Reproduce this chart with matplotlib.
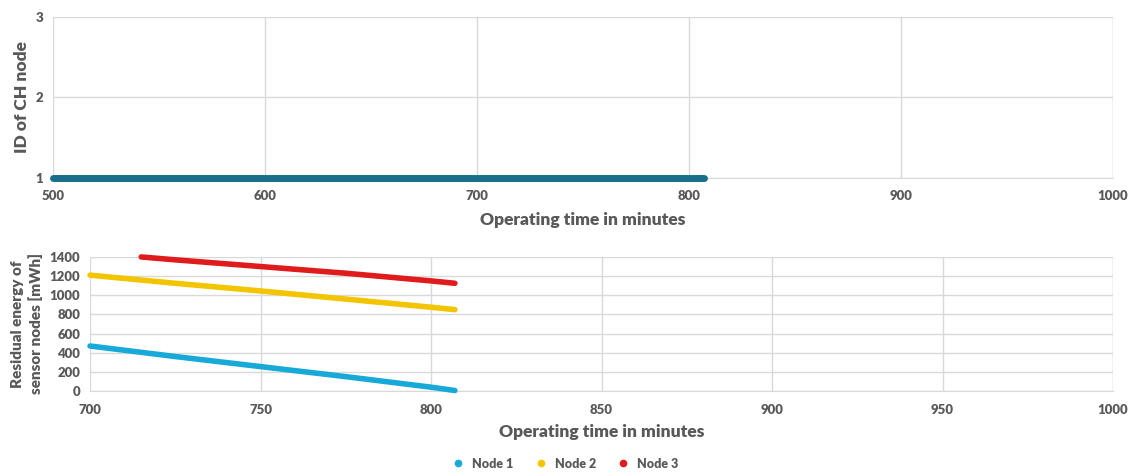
"""
Cluster head ID and residual energy of sensor nodes over operating time
"""
import matplotlib
matplotlib.use('Agg')
import matplotlib.pyplot as plt

# Top chart: ID of the cluster head node
ch_time = [500, 550, 600, 650, 700, 750, 800, 807]
ch_id = [1, 1, 1, 1, 1, 1, 1, 1]

# Bottom chart: residual energy [mWh]
energy_time = [700, 725, 750, 775, 800, 807]
node1 = [470, 360, 255, 150, 40, 5]
node2 = [1210, 1125, 1045, 960, 875, 850]
node3_time = [715, 725, 750, 775, 800, 807]
node3 = [1400, 1370, 1300, 1230, 1150, 1125]

node_labels = ['Node 1', 'Node 2', 'Node 3']
node_colors = ['#17AAD8', '#F2C500', '#E01B1B']

TEXT = '#595959'
GRID = '#D9D9D9'

plt.rcParams['font.family'] = ['Lato', 'DejaVu Sans']
plt.rcParams['font.weight'] = 'bold'

fig = plt.figure(figsize=(11.31, 4.72), dpi=100)


def style_axes(ax):
    for side in ['top', 'right', 'left']:
        ax.spines[side].set_visible(False)
    ax.spines['bottom'].set_color(GRID)
    ax.spines['bottom'].set_zorder(0.5)
    ax.grid(True, color=GRID, linewidth=1)
    ax.set_axisbelow(True)
    ax.tick_params(length=0, colors=TEXT, labelsize=9.5)
    ax.tick_params(axis='x', pad=9)
    ax.tick_params(axis='y', pad=7)
    for lab in ax.get_xticklabels() + ax.get_yticklabels():
        lab.set_fontweight('heavy')


# --- top chart
ax1 = fig.add_axes([0.0469, 0.623, 0.9372, 0.341])
ax1.plot(ch_time, ch_id, '-', color='#176E8A', linewidth=5,
         solid_capstyle='round', clip_on=False, zorder=3)
ax1.set_xlim(500, 1000)
ax1.set_ylim(1, 3)
ax1.set_xticks(range(500, 1001, 100))
ax1.set_yticks([1, 2, 3])
ax1.plot([1000, 1000], [1, 3], color=GRID, linewidth=1, zorder=1)
ax1.set_xlabel('Operating time in minutes', fontsize=12.5, color=TEXT,
               fontweight='heavy', labelpad=7)
ax1.set_ylabel('ID of CH node', fontsize=12.5, color=TEXT,
               fontweight='heavy', labelpad=4)
style_axes(ax1)

# --- bottom chart
ax2 = fig.add_axes([0.0796, 0.1716, 0.9045, 0.284])
series = [(energy_time, node1), (energy_time, node2), (node3_time, node3)]
for (t, e), lab, col in zip(series, node_labels, node_colors):
    ax2.plot(t, e, '-', color=col, linewidth=4, solid_capstyle='round',
             clip_on=False, zorder=3, label=lab)
ax2.set_xlim(700, 1000)
ax2.set_ylim(0, 1400)
ax2.set_xticks(range(700, 1001, 50))
ax2.set_yticks(range(0, 1401, 200))
ax2.plot([1000, 1000], [0, 1400], color=GRID, linewidth=1, zorder=1)
ax2.set_xlabel('Operating time in minutes', fontsize=12.5, color=TEXT,
               fontweight='heavy', labelpad=6)
ax2.set_ylabel('Residual energy of\nsensor nodes [mWh]', fontsize=11,
               color=TEXT, fontweight='heavy', labelpad=5, linespacing=1.3)
style_axes(ax2)

handles = [plt.Line2D([], [], linestyle='none', marker='o', markersize=4.5,
                      color=c) for c in node_colors]
fig.legend(handles, node_labels, loc='center', bbox_to_anchor=(0.497, 0.018),
           ncol=3, frameon=False, handletextpad=0.1, columnspacing=1.2,
           prop={'size': 9, 'weight': 'heavy'}, labelcolor=TEXT)

plt.savefig('out.png', dpi=100)
plt.close()
